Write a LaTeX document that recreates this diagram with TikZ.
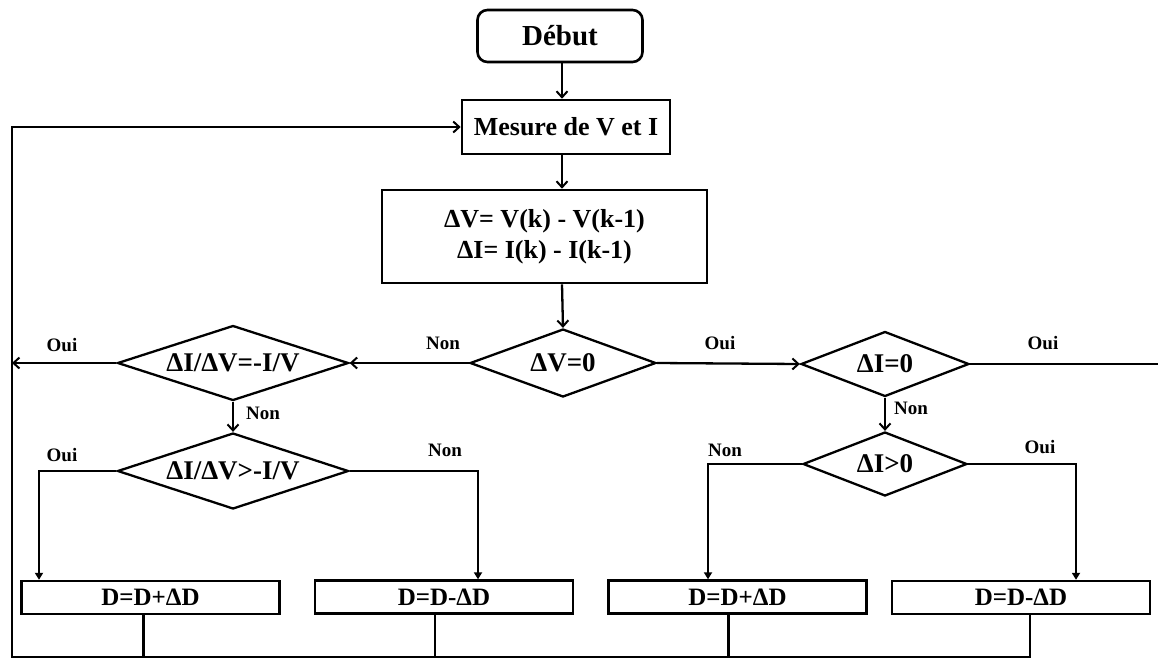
\documentclass[tikz,border=0pt]{standalone}
\usepackage{fontspec}
\setmainfont{Liberation Serif}
\usetikzlibrary{shapes.geometric,arrows.meta}
\begin{document}
\begin{tikzpicture}[x=1pt,y=-1pt,
  conn/.style={line width=2.3pt,line join=miter},
  arr/.style={-{Straight Barb[length=6pt,width=11pt,line width=2pt]}},
  arrf/.style={-{Triangle[length=7pt,width=8pt]}},
  startbox/.style={draw,line width=2.6pt,rounded corners=10pt,inner sep=0pt,
    minimum width=165pt,minimum height=52pt,font=\bfseries\fontsize{29}{34}\selectfont},
  box/.style={draw,line width=2.6pt,rectangle,inner sep=0pt,align=center,
    font=\bfseries\fontsize{26}{31}\selectfont},
  dbox/.style={draw,line width=2.4pt,rectangle,inner sep=0pt,
    minimum width=258pt,minimum height=33pt,font=\bfseries\fontsize{25}{30}\selectfont},
  dec/.style={draw,line width=2.3pt,diamond,aspect=3,inner sep=0pt,
    font=\bfseries\fontsize{27}{32}\selectfont},
  lbl/.style={inner sep=0pt,font=\bfseries\fontsize{19}{22}\selectfont}]

\path[use as bounding box,fill=white] (0,0) rectangle (1158,662);

% helper columns and rows
\coordinate (col) at (562,0);
\coordinate (loop) at (12,0);
\coordinate (c1) at (39,0);
\coordinate (c2) at (478,0);
\coordinate (c3) at (708,0);
\coordinate (c4) at (1076,0);
\coordinate (redge) at (1158,0);
\coordinate (base) at (0,657);

% blocks
\node[startbox] (debut) at (560,36) {Début};
\node[box,minimum width=208pt,minimum height=54pt] (mesure) at (566,127) {Mesure de V et I};
\node[box,minimum width=325pt,minimum height=93pt] (calc) at (544.5,236.5)
  {ΔV= V(k) - V(k-1)\\ΔI= I(k) - I(k-1)};

% decisions
\node[dec,minimum width=186pt,minimum height=68pt] (dv) at (563,363) {ΔV=0};
\node[dec,minimum width=231pt,minimum height=75pt] (d1) at (233,363) {ΔI/ΔV=-I/V};
\node[dec,minimum width=231pt,minimum height=76pt] (d2) at (233,471) {ΔI/ΔV>-I/V};
\node[dec,minimum width=168pt,minimum height=65pt] (di) at (885,364) {ΔI=0};
\node[dec,minimum width=164pt,minimum height=64pt] (dp) at (885,464) {ΔI>0};

% duty-cycle updates
\node[dbox] (b1) at (150.5,597.5) {D=D+ΔD};
\node[dbox] (b2) at (444,597) {D=D-ΔD};
\node[dbox] (b3) at (737.5,597) {D=D+ΔD};
\node[dbox] (b4) at (1021,597.5) {D=D-ΔD};

% main flow
\draw[conn,arr] (debut.south -| col) -- (mesure.north -| col);
\draw[conn,arr] (mesure.south -| col) -- (calc.north -| col);
\draw[conn,arr] (calc.south -| col) -- (dv.north);
\draw[conn,arr] (dv.west) -- (d1.east);
\draw[conn,arr] (d1.west) -- (d1.west -| loop);
\draw[conn,arr] (d1.south) -- (d2.north);
\draw[conn,arrf] (d2.west) -| (c1 |- b1.north);
\draw[conn,arrf] (d2.east) -| (c2 |- b2.north);
\draw[conn,arr] (dv.east) -- (di.west);
\draw[conn] (di.east) -- (di.east -| redge);
\draw[conn,arr] (di.south) -- (dp.north);
\draw[conn,arrf] (dp.west) -| (c3 |- b3.north);
\draw[conn,arrf] (dp.east) -| (c4 |- b4.north);

% return to the measurement
\draw[conn] ([xshift=-7pt]b1.south) -- ([xshift=-7pt]b1.south |- base);
\draw[conn] ([xshift=-9pt]b2.south) -- ([xshift=-9pt]b2.south |- base);
\draw[conn] ([xshift=-9pt]b3.south) -- ([xshift=-9pt]b3.south |- base);
\draw[conn,arr] ([xshift=9pt]b4.south) -- ([xshift=9pt]b4.south |- base)
  -- (loop |- base) -- (loop |- mesure.west) -- (mesure.west);

% branch labels
\node[lbl] (l1) at (62,345) {Oui};
\node[lbl] (l2) at (443,343) {Non};
\node[lbl] (l3) at (263,413) {Non};
\node[lbl] (l4) at (62,455) {Oui};
\node[lbl] (l5) at (445,450) {Non};
\node[lbl] (l6) at (720,343) {Oui};
\node[lbl] (l7) at (1043,343) {Oui};
\node[lbl] (l8) at (911,408) {Non};
\node[lbl] (l9) at (725,450) {Non};
\node[lbl] (l10) at (1040,447) {Oui};
\end{tikzpicture}
\end{document}
